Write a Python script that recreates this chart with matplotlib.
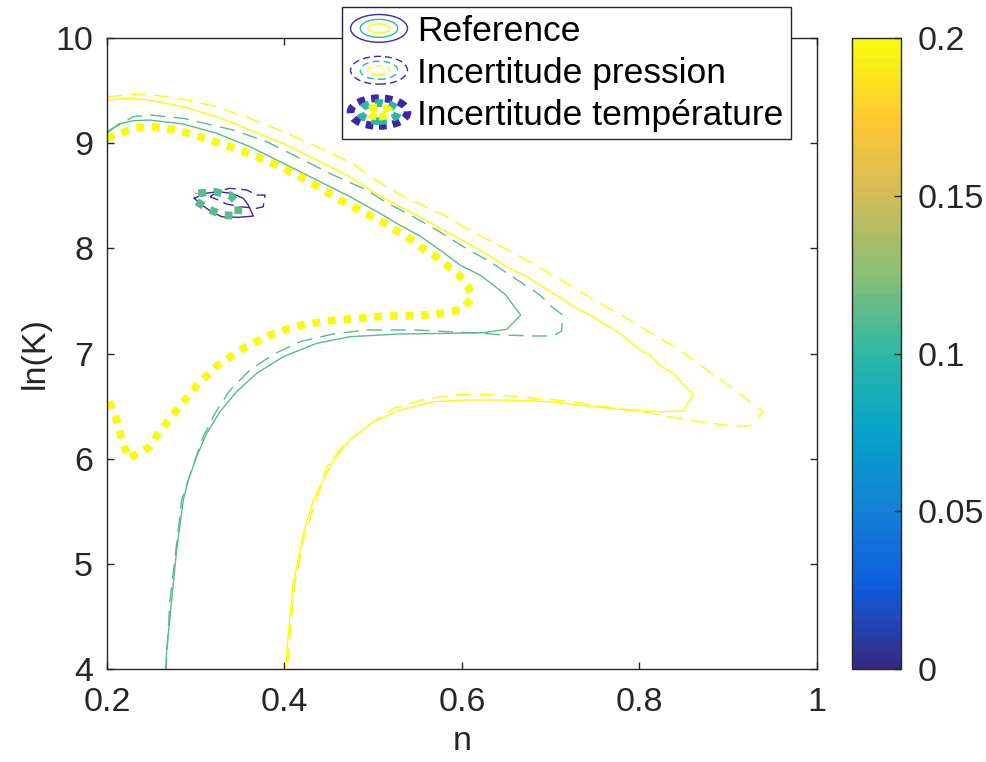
import matplotlib
matplotlib.use("Agg")
import numpy as np
from matplotlib import pyplot as plt
from matplotlib.colors import LinearSegmentedColormap, Normalize
from matplotlib.cm import ScalarMappable
from matplotlib.lines import Line2D
from matplotlib.patches import Ellipse
from matplotlib.legend_handler import HandlerBase

plt.rcParams['font.family'] = ['Liberation Sans', 'DejaVu Sans']

# contour lines: (n, ln(K))
# reference, level "green"
ref_green_n = [0.200, 0.2127, 0.2297, 0.2485, 0.286, 0.3236, 0.3611, 0.3987, 0.4363, 0.4738,
               0.5076, 0.5264, 0.5527, 0.5752, 0.5977, 0.6203, 0.6353, 0.6485, 0.6661, 0.6504,
               0.624, 0.5865, 0.5301, 0.4738, 0.4363, 0.3987, 0.3687, 0.3461, 0.3273, 0.3123,
               0.301, 0.2916, 0.286, 0.2785, 0.2729, 0.2673, 0.2661]
ref_green_k = [9.094, 9.182, 9.214, 9.220, 9.182, 9.094, 8.967, 8.809, 8.650, 8.491,
               8.333, 8.238, 8.117, 7.984, 7.842, 7.746, 7.651, 7.563, 7.366, 7.230,
               7.198, 7.192, 7.186, 7.160, 7.097, 6.970, 6.812, 6.637, 6.447, 6.241,
               6.019, 5.797, 5.607, 5.132, 4.656, 4.181, 4.0]

# reference, level "yellow"
ref_yellow_n = [0.200, 0.2259, 0.2485, 0.286, 0.3236, 0.3611, 0.3987, 0.4363, 0.4738, 0.5076,
                0.5451, 0.5827, 0.6203, 0.6503, 0.6729, 0.7123, 0.7254, 0.7442, 0.778, 0.8006,
                0.81, 0.825, 0.8381, 0.8513, 0.8606, 0.8494, 0.8231, 0.7855, 0.748, 0.7104,
                0.6803, 0.6428, 0.6053, 0.5677, 0.5301, 0.5001, 0.4738, 0.455, 0.4437, 0.4325,
                0.4212, 0.4099, 0.4043, 0.4013]
ref_yellow_k = [9.410, 9.427, 9.410, 9.347, 9.252, 9.125, 8.999, 8.840, 8.68, 8.498,
                8.333, 8.158, 7.984, 7.826, 7.730, 7.525, 7.445, 7.366, 7.192, 7.033,
                6.995, 6.875, 6.812, 6.685, 6.615, 6.453, 6.447, 6.463, 6.494, 6.532,
                6.551, 6.558, 6.558, 6.542, 6.463, 6.352, 6.178, 5.987, 5.797, 5.607,
                5.290, 4.815, 4.340, 4.0]

# reference, small closed loop (dark blue)
ref_blue_n = [0.2984, 0.3104, 0.3254, 0.3405, 0.3536, 0.3592, 0.3649, 0.3479, 0.3292, 0.318,
              0.3067, 0.2984]
ref_blue_k = [8.476, 8.523, 8.539, 8.523, 8.476, 8.412, 8.307, 8.295, 8.301, 8.348,
              8.412, 8.476]

# pressure uncertainty
pre_green_n = [0.200, 0.2297, 0.2485, 0.286, 0.3423, 0.380, 0.4175, 0.455, 0.4926, 0.5132,
               0.5451, 0.5733, 0.6015, 0.6316, 0.6597, 0.6879, 0.7011, 0.7134, 0.7123, 0.7029,
               0.6803, 0.6466, 0.624, 0.5865, 0.549, 0.4926, 0.455, 0.4175, 0.3874, 0.3611,
               0.3386, 0.3217, 0.3085, 0.2992, 0.2916, 0.2842, 0.2777, 0.271, 0.2665]
pre_green_k = [9.110, 9.252, 9.268, 9.236, 9.125, 9.014, 8.856, 8.697, 8.555, 8.443,
               8.301, 8.165, 8.016, 7.873, 7.715, 7.556, 7.445, 7.366, 7.214, 7.167,
               7.167, 7.176, 7.192, 7.207, 7.224, 7.224, 7.186, 7.113, 6.992, 6.843,
               6.653, 6.431, 6.209, 5.987, 5.797, 5.607, 5.132, 4.656, 4.0]

pre_yellow_n = [0.2, 0.2334, 0.2522, 0.286, 0.3236, 0.3611, 0.3987, 0.4363, 0.4738, 0.517,
                0.547, 0.5789, 0.6071, 0.6372, 0.6673, 0.6973, 0.7254, 0.7555, 0.7856, 0.8136,
                0.8419, 0.87, 0.8982, 0.9245, 0.9388, 0.932, 0.9245, 0.902, 0.8682, 0.8344,
                0.8006, 0.7743, 0.748, 0.7217, 0.6898, 0.656, 0.6225, 0.5884, 0.5546, 0.5234,
                0.4952, 0.4682, 0.4479, 0.436, 0.4232, 0.4119, 0.4063, 0.4033]
pre_yellow_k = [9.442, 9.465, 9.458, 9.417, 9.347, 9.236, 9.109, 8.967, 8.82, 8.571,
                8.443, 8.317, 8.181, 8.048, 7.915, 7.769, 7.630, 7.477, 7.335, 7.192,
                7.050, 6.881, 6.710, 6.542, 6.447, 6.368, 6.311, 6.314, 6.352, 6.399,
                6.453, 6.479, 6.508, 6.548, 6.567, 6.596, 6.612, 6.606, 6.558, 6.479,
                6.320, 6.146, 5.924, 5.607, 5.290, 4.815, 4.340, 4.0]

pre_blue_n = [0.3161, 0.3254, 0.3386, 0.3574, 0.3687, 0.378, 0.3761, 0.3687, 0.3499, 0.3349,
              0.3235, 0.3161]
pre_blue_k = [8.491, 8.545, 8.571, 8.555, 8.507, 8.507, 8.396, 8.381, 8.396, 8.422,
              8.466, 8.491]

# temperature uncertainty
tem_yellow_n = [0.200, 0.230, 0.250, 0.282, 0.316, 0.350, 0.387, 0.425, 0.4625, 0.5132,
                0.5282, 0.5422, 0.5557, 0.5707, 0.5838, 0.5966, 0.6071, 0.6109, 0.5997, 0.5828,
                0.5659, 0.549, 0.5321, 0.515, 0.4813, 0.4475, 0.4137, 0.3837, 0.3536, 0.3236,
                0.301, 0.2785, 0.2578, 0.2485, 0.2353, 0.224, 0.2184, 0.209, 0.2015]
tem_yellow_k = [9.046, 9.141, 9.157, 9.119, 9.030, 8.935, 8.808, 8.650, 8.460, 8.238,
                8.158, 8.086, 8.000, 7.920, 7.832, 7.746, 7.636, 7.525, 7.420, 7.388,
                7.373, 7.360, 7.357, 7.357, 7.335, 7.309, 7.262, 7.176, 7.050, 6.881,
                6.691, 6.463, 6.241, 6.114, 6.051, 6.004, 6.146, 6.415, 6.558]

tem_green_n = [0.3029, 0.3209, 0.3386, 0.3479, 0.3479, 0.3310, 0.3161, 0.3011, 0.3029]
tem_green_k = [8.523, 8.539, 8.507, 8.422, 8.307, 8.317, 8.365, 8.443, 8.523]

x_ticks = [0.2, 0.4, 0.6, 0.8, 1.0]
x_ticklabels = ['0.2', '0.4', '0.6', '0.8', '1']
y_ticks = [4, 5, 6, 7, 8, 9, 10]
cb_ticks = [0, 0.05, 0.1, 0.15, 0.2]
cb_ticklabels = ['0', '0.05', '0.1', '0.15', '0.2']
legend_labels = ['Reference', 'Incertitude pression', 'Incertitude température']

# parula-like colormap, 64 steps like matlab
parula = LinearSegmentedColormap.from_list(
    'parula', ['#352a87', '#0f5cdd', '#1481d6', '#06a4ca', '#2eb7a4',
               '#87bf77', '#d1bb59', '#fec832', '#f9fb0e']).resampled(64)
c_blue = '#3e26a8'
c_green = '#5abb8d'
c_teal = '#2eb7a4'
c_yellow = '#f9fb0e'
axcol = '#262626'

dashed = (0, (11, 6))
dotted = (0, (1, 1))
lw_thin = 1.0
lw_dot = 5.6
fs = 24.5


class ContourIcon(HandlerBase):
    # draws three concentric ellipses like the matlab contour legend icon
    def create_artists(self, legend, orig_handle, xdescent, ydescent,
                       width, height, fontsize, trans):
        cx = width / 2 - xdescent
        cy = height / 2 - ydescent
        ls = orig_handle.get_linestyle()
        lw = orig_handle.get_linewidth()
        arts = []
        for (w, h), c in zip([(41, 20), (27, 13), (16, 6.5)], [c_blue, c_teal, c_yellow]):
            e = Ellipse((cx, cy), w, h, fill=False, edgecolor=c, lw=lw, transform=trans)
            if ls != '-':
                e.set_linestyle(orig_handle._unscaled_dash_pattern)
                e.set_capstyle('butt')
            arts.append(e)
        return arts


fig = plt.figure(figsize=(9.86, 7.62), dpi=100)
ax = fig.add_axes([0.1085, 0.1220, 0.7201, 0.8281])
cax = fig.add_axes([0.8641, 0.1220, 0.0497, 0.8281])

ax.plot(ref_green_n, ref_green_k, color=c_green, lw=lw_thin)
ax.plot(ref_yellow_n, ref_yellow_k, color=c_yellow, lw=lw_thin)
ax.plot(ref_blue_n, ref_blue_k, color=c_blue, lw=lw_thin)

ax.plot(pre_green_n, pre_green_k, color=c_green, lw=lw_thin, ls=dashed, dash_capstyle='butt')
ax.plot(pre_yellow_n, pre_yellow_k, color=c_yellow, lw=lw_thin, ls=dashed, dash_capstyle='butt')
ax.plot(pre_blue_n, pre_blue_k, color=c_blue, lw=lw_thin, ls=(0, (8, 4)), dash_capstyle='butt')

ax.plot(tem_yellow_n, tem_yellow_k, color=c_yellow, lw=lw_dot, ls=dotted, dash_capstyle='butt')
ax.plot(tem_green_n, tem_green_k, color=c_green, lw=lw_dot, ls=dotted, dash_capstyle='butt')

ax.set_xlim(0.2, 1.0)
ax.set_ylim(4, 10)
ax.set_xticks(x_ticks)
ax.set_xticklabels(x_ticklabels)
ax.set_yticks(y_ticks)
ax.tick_params(direction='in', length=5, width=1, colors=axcol, labelsize=fs,
               top=True, right=True)
ax.tick_params(axis='x', pad=13)
ax.tick_params(axis='y', pad=10)
for sp in ax.spines.values():
    sp.set_color(axcol)
    sp.set_linewidth(1.0)
ax.set_xlabel('n', fontsize=fs, color=axcol, labelpad=6)
ax.set_ylabel('ln(K)', fontsize=fs, color=axcol, labelpad=3)

# legend proxies
h_ref = Line2D([], [], color='k', lw=1.0, ls='-')
h_pre = Line2D([], [], color='k', lw=1.0, ls=(0, (5, 3)))
h_tem = Line2D([], [], color='k', lw=5.5, ls=(0, (1, 0.8)))
leg = ax.legend([h_ref, h_pre, h_tem], legend_labels,
                handler_map={Line2D: ContourIcon()},
                loc='upper left', bbox_to_anchor=(342 / 986, 1 - 7 / 762),
                bbox_transform=fig.transFigure, borderaxespad=0,
                fontsize=25.5, handlelength=1.65, handletextpad=0.25,
                labelspacing=0.25, borderpad=0.22, fancybox=False,
                framealpha=1, edgecolor=axcol)
leg.get_frame().set_linewidth(1.0)

sm = ScalarMappable(norm=Normalize(0, 0.2), cmap=parula)
cb = fig.colorbar(sm, cax=cax)
cb.set_ticks(cb_ticks)
cb.set_ticklabels(cb_ticklabels)
cb.outline.set_edgecolor(axcol)
cb.outline.set_linewidth(1.0)
cax.tick_params(direction='in', length=5, width=1, colors=axcol, labelsize=fs, pad=12)

fig.savefig('out.png', dpi=100)
